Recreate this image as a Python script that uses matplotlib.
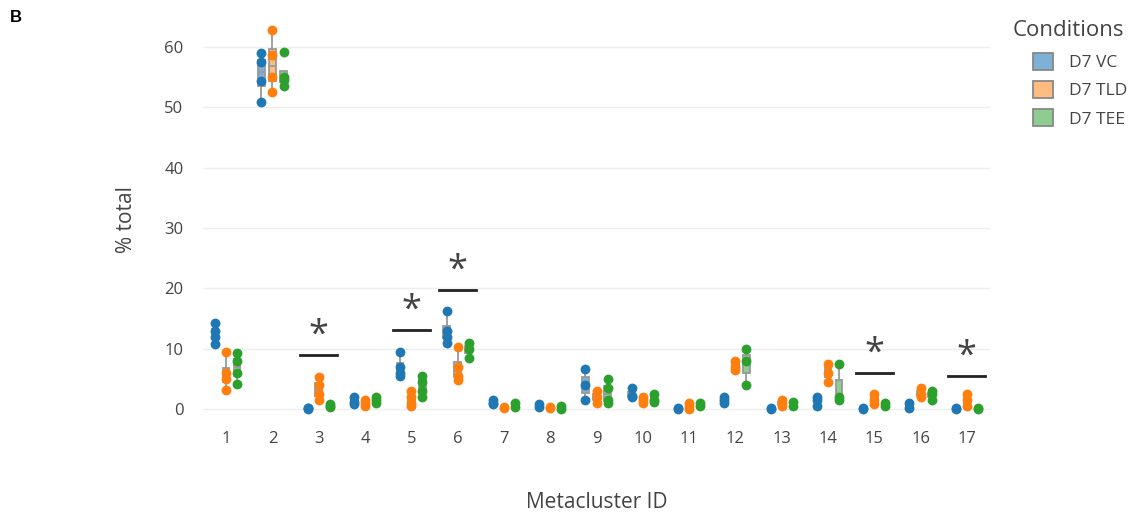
import numpy as np
import matplotlib
matplotlib.use('Agg')
from matplotlib import pyplot as plt
from matplotlib.patches import Patch

plt.rcParams['font.family'] = ['Open Sans', 'DejaVu Sans']

# Data: % total per metacluster, replicate values per condition
clusters = list(range(1, 18))
conditions = ['D7 VC', 'D7 TLD', 'D7 TEE']
vc = [
    [14.3, 13.0, 12.0, 10.8], [59.0, 57.5, 54.4, 50.9], [0.2, 0.2, 0.1], [2.0, 1.2, 0.8],
    [9.5, 7.0, 6.0, 5.5], [16.3, 13.0, 12.0, 11.0], [1.5, 1.0, 0.8], [0.8, 0.3],
    [6.7, 4.0, 1.5], [3.5, 2.2, 2.0], [0.2, 0.1], [2.0, 1.5, 1.0],
    [0.2, 0.1], [2.0, 1.5, 0.5], [0.2, 0.1], [1.0, 0.2], [0.2, 0.1],
]
tld = [
    [9.5, 6.0, 5.0, 3.2], [62.9, 58.7, 55.0, 52.6], [5.3, 4.0, 2.5, 1.5], [1.5, 1.0, 0.5],
    [3.0, 2.0, 1.0, 0.5], [10.3, 7.0, 5.5, 4.8], [0.3, 0.2], [0.3, 0.2],
    [3.0, 2.0, 1.0], [2.0, 1.5, 1.0], [1.0, 0.5, 0.0], [8.0, 7.0, 6.5],
    [1.5, 1.0, 0.5], [7.5, 6.0, 4.5], [2.5, 1.5, 0.8], [3.5, 2.5, 2.0], [2.5, 1.5, 0.5],
]
tee = [
    [9.3, 8.0, 6.0, 4.2], [59.2, 55.0, 54.5, 53.6], [0.8, 0.5, 0.3], [2.0, 1.5, 1.0],
    [5.5, 4.5, 3.0, 2.0], [11.0, 10.0, 8.5], [1.0, 0.3], [0.5, 0.0],
    [5.0, 3.5, 1.5, 1.0], [2.5, 1.5, 1.2], [1.0, 0.5], [10.0, 8.0, 4.0],
    [1.2, 0.5], [7.5, 2.0, 1.5], [1.0, 0.5], [3.0, 2.5, 1.5], [0.2, 0.1],
]
# significance markers: cluster, bar height
sig_clusters = [3, 5, 6, 15, 17]
sig_heights = [9.0, 13.1, 19.7, 6.0, 5.5]

point_colors = ['#1f77b4', '#ff7f0e', '#2ca02c']
box_colors = ['#7fb0d6', '#ffbb80', '#8fcc8f']
offsets = [-0.24, 0.0, 0.24]

fig = plt.figure(figsize=(11.38, 5.16), dpi=100)
ax = fig.add_axes([203 / 1138, 96 / 516, (990 - 203) / 1138, 400 / 516])

for series, off, pc, bc in zip([vc, tld, tee], offsets, point_colors, box_colors):
    pos = [c + off for c in clusters]
    bp = ax.boxplot(series, positions=pos, widths=0.14, patch_artist=True,
                    showfliers=False, showcaps=False, whis=1.5, zorder=2)
    for b in bp['boxes']:
        b.set(facecolor=bc, edgecolor='#999999', linewidth=1.3)
    for w in bp['whiskers']:
        w.set(color='#999999', linewidth=1.3)
    for m in bp['medians']:
        m.set(color='#999999', linewidth=1.3)
    for p, vals in zip(pos, series):
        ax.scatter([p] * len(vals), vals, s=50, color=pc, zorder=3, linewidths=0)

for c, h in zip(sig_clusters, sig_heights):
    ax.plot([c - 0.4, c + 0.4], [h, h], color='#222222', lw=2, zorder=4)
    ax.text(c, h + 0.2, '*', ha='center', va='bottom', fontsize=26, color='#444444')

ax.set_xlim(0.5, 17.5)
ax.set_ylim(-1.8, 64.5)
ax.set_xticks(clusters)
ax.set_xticklabels([str(c) for c in clusters])
ax.set_yticks(range(0, 61, 10))
ax.yaxis.grid(True, color='#eeeeee', lw=1)
ax.set_axisbelow(True)
for s in ax.spines.values():
    s.set_visible(False)
ax.tick_params(length=0, labelsize=12, colors='#444444', pad=8)
ax.tick_params(axis='y', pad=14)
ax.set_xlabel('Metacluster ID', fontsize=15, color='#444444', labelpad=32)
ax.set_ylabel('% total', fontsize=15, color='#444444', labelpad=20)

# Legend: title on its own, entries indented below it
fig.text(1013 / 1138, 1 - 30 / 516, 'Conditions', fontsize=16, color='#444444',
         ha='left', va='center')
handles = [Patch(facecolor=bc, edgecolor='#888888', linewidth=1.3) for bc in box_colors]
leg = fig.legend(handles, conditions, loc='upper left',
                 bbox_to_anchor=(1026 / 1138, 1 - 46 / 516), frameon=False,
                 fontsize=12.5, handlelength=1.15, handleheight=1.15,
                 labelspacing=0.55, handletextpad=0.9, borderaxespad=0)
for t in leg.get_texts():
    t.set_color('#444444')

fig.text(10 / 1138, 1 - 18 / 516, 'B', fontsize=12, fontweight='bold', va='center',
         family=['Liberation Sans', 'DejaVu Sans'])

fig.savefig('out.png', dpi=100)
